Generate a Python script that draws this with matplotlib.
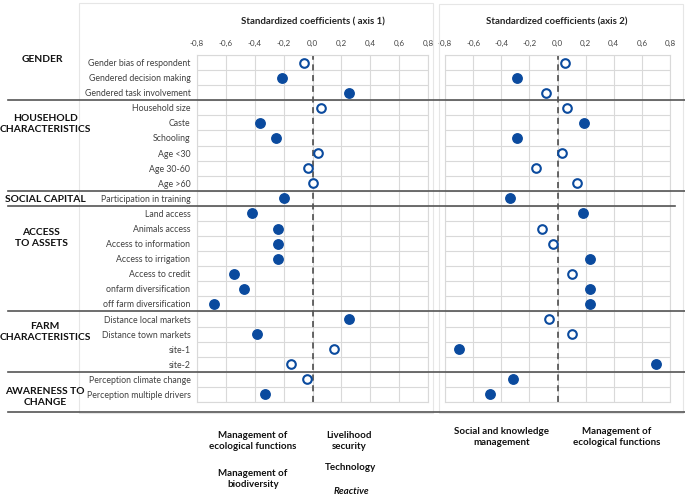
import numpy as np
import matplotlib
matplotlib.use("Agg")
import matplotlib.pyplot as plt
from matplotlib.lines import Line2D
from matplotlib.patches import Rectangle

plt.rcParams['font.family'] = ['Lato', 'DejaVu Sans']

# variables (top to bottom)
labels = ["Gender bias of respondent", "Gendered decision making", "Gendered task involvement",
          "Household size", "Caste", "Schooling", "Age <30", "Age 30-60", "Age >60",
          "Participation in training",
          "Land access", "Animals access", "Access to information", "Access to irrigation",
          "Access to credit", "onfarm diversification", "off farm diversification",
          "Distance local markets", "Distance town markets", "site-1", "site-2",
          "Perception climate change", "Perception multiple drivers"]

# axis 1 coefficients and significance (True = filled marker)
axis1 = [-0.06, -0.21, 0.25,
         0.06, -0.36, -0.25, 0.04, -0.03, 0.00,
         -0.20,
         -0.42, -0.24, -0.24, -0.24, -0.54, -0.47, -0.68,
         0.25, -0.38, 0.15, -0.15,
         -0.04, -0.33]
sig1 = [False, True, True,
        False, True, True, False, False, False,
        True,
        True, True, True, True, True, True, True,
        True, True, False, False,
        False, True]

# axis 2
axis2 = [0.05, -0.29, -0.08,
         0.07, 0.19, -0.29, 0.03, -0.15, 0.14,
         -0.34,
         0.18, -0.11, -0.03, 0.23, 0.10, 0.23, 0.23,
         -0.06, 0.10, -0.70, 0.70,
         -0.32, -0.48]
sig2 = [False, True, False,
        False, True, True, False, False, False,
        True,
        True, False, False, True, False, True, True,
        False, False, True, True,
        True, True]

groups = ["GENDER", "HOUSEHOLD\nCHARACTERISTICS", "SOCIAL CAPITAL", "ACCESS\nTO ASSETS",
          "FARM\nCHARACTERISTICS", "AWARENESS TO\nCHANGE"]
group_sizes = [3, 6, 1, 7, 4, 2]

xticks = [-0.8, -0.6, -0.4, -0.2, 0.0, 0.2, 0.4, 0.6, 0.8]
xticklabels = ["%.1f" % v for v in xticks]
xticklabels = [s.replace(".", ",") for s in xticklabels]

blue = "#0a4a9e"
grid_c = "#d9d9d9"

W, H = 685, 497
fig = plt.figure(figsize=(W / 100, H / 100), dpi=100)


def fx(px):
    return px / W


def fy(py):
    return 1 - py / H


# faint chart frames
fig.patches.append(Rectangle((fx(79), fy(413)), fx(433 - 79), (413 - 3) / H,
                             transform=fig.transFigure, fill=False, ec="#e6e6e6", lw=0.8))
fig.patches.append(Rectangle((fx(439), fy(413)), fx(683 - 439), (413 - 4) / H,
                             transform=fig.transFigure, fill=False, ec="#e6e6e6", lw=0.8))

n = len(labels)
top, bot = 55, 402
ax1 = fig.add_axes([fx(196.7), fy(bot), fx(428.3 - 196.7), (bot - top) / H])
ax2 = fig.add_axes([fx(445), fy(bot), fx(670 - 445), (bot - top) / H])

for ax, vals, sig in [(ax1, axis1, sig1), (ax2, axis2, sig2)]:
    y = np.arange(n)
    vals = np.array(vals)
    sig = np.array(sig)
    ax.set_xlim(-0.8, 0.8)
    ax.set_ylim(n - 0.5, -0.5)
    ax.set_xticks(xticks)
    ax.set_xticklabels(xticklabels, fontsize=5.8, color="#444444")
    ax.xaxis.tick_top()
    ax.tick_params(axis="x", length=0, pad=6)
    ax.set_yticks(np.arange(-0.5, n), minor=True)
    ax.grid(axis="x", color=grid_c, lw=0.8)
    ax.grid(axis="y", which="minor", color=grid_c, lw=0.8)
    ax.tick_params(axis="y", which="both", length=0)
    for s in ax.spines.values():
        s.set_color(grid_c)
        s.set_linewidth(0.8)
    ax.set_axisbelow(True)
    ax.axvline(0, color="#404040", ls=(0, (4, 3)), lw=1.1, zorder=2)
    ax.plot(vals[sig], y[sig], "o", color=blue, ms=6.8, zorder=3)
    ax.plot(vals[~sig], y[~sig], "o", mfc="white", mec=blue, mew=1.5, ms=6.2, zorder=3)

ax1.set_yticks(np.arange(n))
ax1.set_yticklabels(labels, fontsize=6.3, color="#404040")
ax1.tick_params(axis="y", pad=4.5)
ax2.set_yticks([])

fig.text(fx(313), fy(22), "Standardized coefficients ( axis 1)", ha="center", va="center",
         fontsize=6.9, fontweight="bold", color="#222222")
fig.text(fx(557), fy(22), "Standardized coefficients (axis 2)", ha="center", va="center",
         fontsize=6.9, fontweight="bold", color="#222222")

# group labels and separator lines
row_h = (bot - top) / n
start = 0
group_pos = [(42, 59), (45, 124), (45, 199), (41, 238), (45, 332), (45, 397)]
for g, size, (gx, gy) in zip(groups, group_sizes, group_pos):
    fig.text(fx(gx), fy(gy), g, ha="center", va="center", fontsize=7.4,
             fontweight="bold", color="#111111", linespacing=1.3)
    start += size
    yline = top + start * row_h
    if start == n:
        yline = 412
    x_end = 675 if start == 10 else 685
    fig.add_artist(Line2D([fx(8), fx(x_end)], [fy(yline), fy(yline)],
                          color="#555555", lw=1.2, transform=fig.transFigure))

# interpretation texts under the panels
notes = [(253, 441, "Management of\necological functions", "normal"),
         (349, 441, "Livelihood\nsecurity", "normal"),
         (350, 467, "Technology", "normal"),
         (253, 479, "Management of\nbiodiversity", "normal"),
         (351, 491, "Reactive", "italic"),
         (502, 437, "Social and knowledge\nmanagement", "normal"),
         (617, 437, "Management of\necological functions", "normal")]
for nx, ny, txt, st in notes:
    fig.text(fx(nx), fy(ny), txt, ha="center", va="center", fontsize=7,
             fontweight="bold", style=st, color="#111111", linespacing=1.25)

fig.savefig("out.png", dpi=100)
